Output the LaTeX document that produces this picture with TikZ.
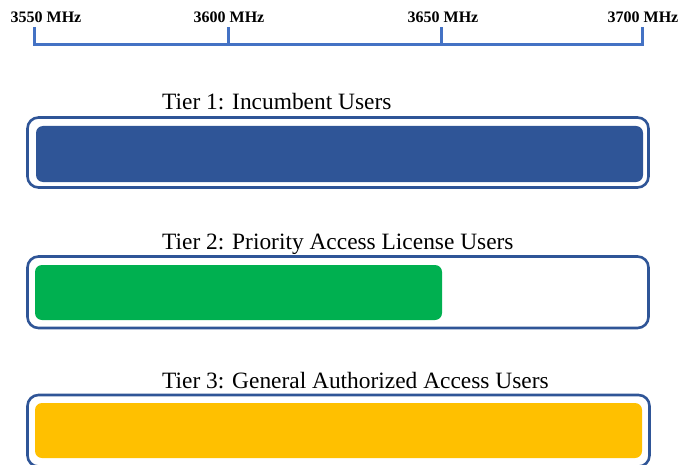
\documentclass[tikz,border=0pt]{standalone}
\usepackage{fontspec}
\setmainfont{Liberation Serif}
\definecolor{axisblue}{HTML}{4472C4}
\definecolor{tierblue}{HTML}{2F5597}
\definecolor{palgreen}{HTML}{00B050}
\definecolor{gaayellow}{HTML}{FFC000}
\begin{document}
\begin{tikzpicture}[x=1pt, y=-1pt,
  freq/.style={font=\fontsize{16}{16}\selectfont\bfseries, inner sep=0pt, anchor=base},
  tier/.style={font=\fontsize{23.4}{23.4}\selectfont, inner sep=0pt, anchor=base west},
  band/.style={draw=tierblue, line width=2.6pt, rounded corners=11pt},
  bar/.style={rounded corners=7pt}]
\clip (0,0) rectangle (679,465);
%
             \node [freq] at (46,23) (f3550) {3550 MHz};
              \node [freq] at (229,23) (f3600) {3600 MHz};
                   \node [freq] at (443,23) (f3650) {3650 MHz};
                       \node [freq] at (643,23) (f3700) {3700 MHz};
                        \coordinate (a) at (34,45);
                        \coordinate (b) at (228,45);
                          \coordinate (c) at (441,45);
                           \coordinate (d) at (642,45);
%
\draw[axisblue, line width=3pt] (a) ++(0,-18) -- (a) -- (d) -- ++(0,-18);
\draw[axisblue, line width=3pt] (b) -- ++(0,-18);
\draw[axisblue, line width=3pt] (c) -- ++(0,-18);
%
                 \node [tier] at (162,110) (tier1) {Tier 1: Incumbent Users};
                  \node [tier] at (162,249) (tier2) {Tier 2: Priority Access License Users};
                   \node [tier] at (162,388) (tier3) {Tier 3: General Authorized Access Users};
%
\fill[bar, tierblue] (36,126) rectangle (643,182);
\draw[band] (27.5,117.5) rectangle (648.5,187.5);
\fill[bar, palgreen] (35,265) rectangle (442,320);
\draw[band] (27.5,256.5) rectangle (648.5,328);
\fill[bar, gaayellow] (35,403) rectangle (642,458);
\draw[band] (27.5,395) rectangle (649.5,466.5);
\end{tikzpicture}
\end{document}
